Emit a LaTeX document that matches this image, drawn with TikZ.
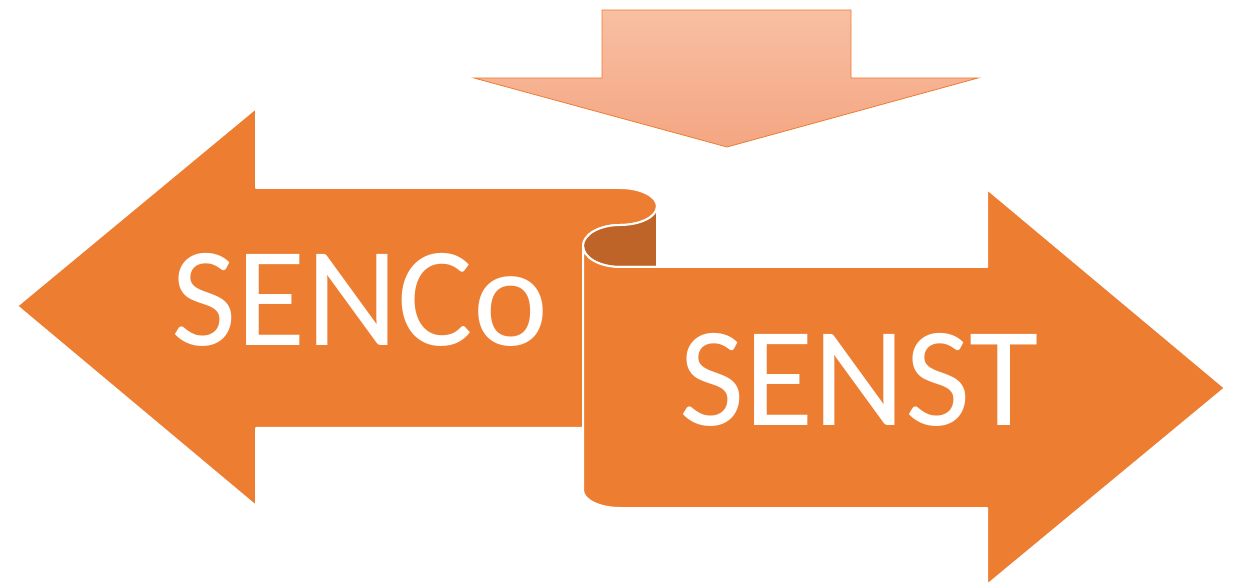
\documentclass[tikz,border=0pt]{standalone}
\usepackage{fontspec}
\setmainfont{Carlito}
\definecolor{orng}{HTML}{ED7D31}
\definecolor{darkorng}{HTML}{BF6428}
\definecolor{lighttop}{HTML}{F8BFA3}
\definecolor{lightbot}{HTML}{F4A682}
\begin{document}
\begin{tikzpicture}[x=1pt,y=1pt,
  arrowshape/.style={fill=orng,draw=white,line width=2pt,line join=round},
  curlshape/.style={fill=darkorng,draw=white,line width=2pt,line join=round},
  label/.style={text=white,font=\fontsize{142}{142}\selectfont,inner sep=0pt}]
\useasboundingbox (0,0) rectangle (1238,586);
% top down arrow
\draw[orng,line width=0.8pt,top color=lighttop,bottom color=lightbot,line join=miter]
  (602,576) -- (851,576) -- (851,508) -- (978,508) -- (727,439) -- (474,508) -- (602,508) -- cycle;
% left arrow
\draw[arrowshape] (17,280) -- (256,478) -- (256,398) -- (620,398)
  arc[start angle=90,end angle=-90,x radius=37,y radius=18.5]
  arc[start angle=90,end angle=180,x radius=37,y radius=21]
  -- (583,158) -- (256,158) -- (256,80) -- cycle;
% curl
\draw[curlshape] (657,379.5)
  arc[start angle=0,end angle=-90,x radius=37,y radius=18.5]
  arc[start angle=90,end angle=270,x radius=37,y radius=21]
  -- (657,319) -- cycle;
% right arrow
\draw[arrowshape] (583,340)
  arc[start angle=180,end angle=270,x radius=37,y radius=21]
  -- (987,319) -- (987,397) -- (1225,198) -- (987,1) -- (987,78) -- (620,78)
  arc[start angle=270,end angle=180,x radius=37,y radius=18]
  -- cycle;
\node[label] (senco) at (360,286) {SENCo};
\node[label] (senst) at (859,206) {SENST};
\end{tikzpicture}
\end{document}
